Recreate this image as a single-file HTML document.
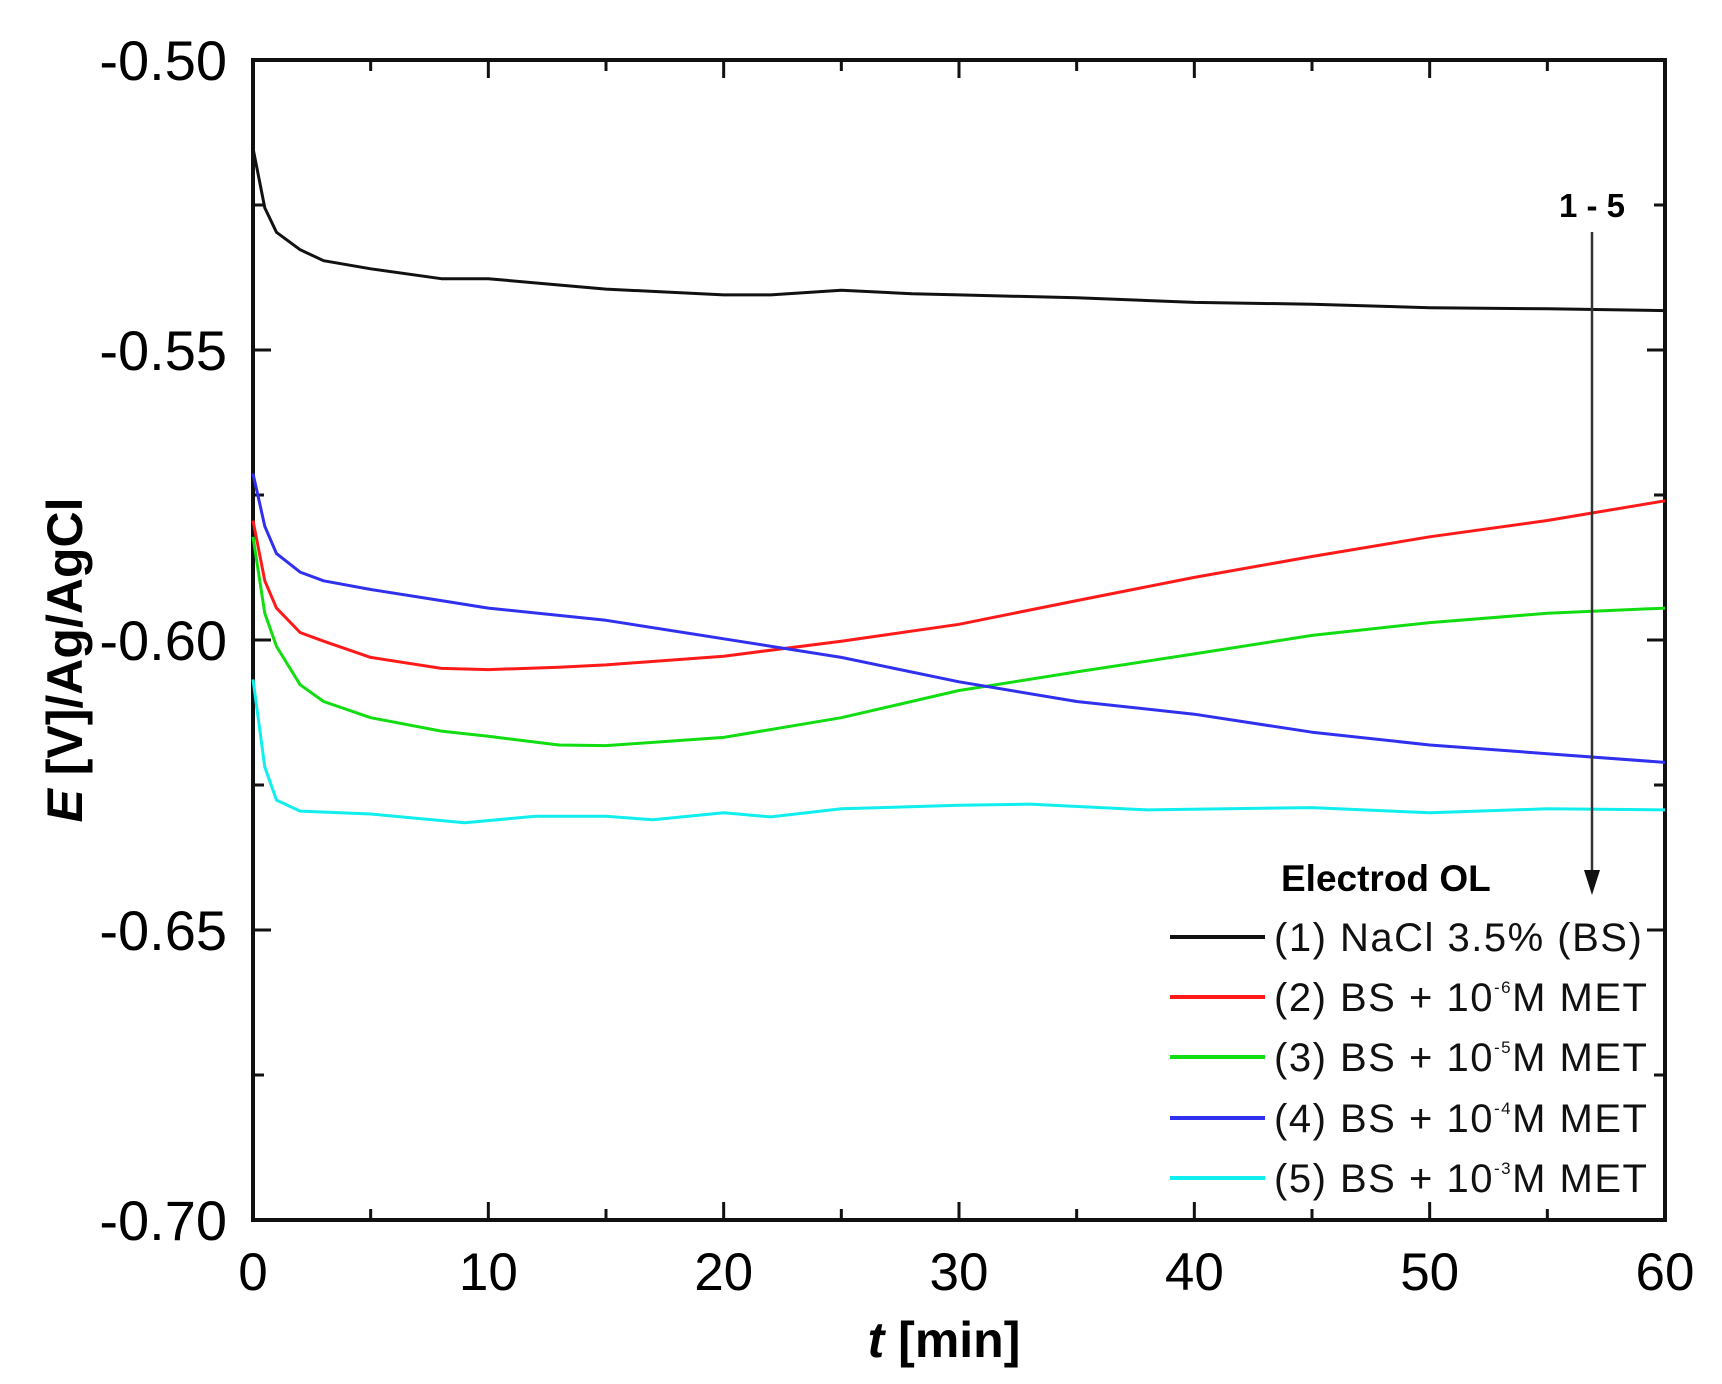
<!DOCTYPE html>
<html><head><meta charset="utf-8"><style>
html,body{margin:0;padding:0;background:#fff}
svg{display:block;font-family:"Liberation Sans",Arial,sans-serif}
</style></head><body>
<svg id="chart" width="1722" height="1384" viewBox="0 0 1722 1384" xmlns="http://www.w3.org/2000/svg"></svg>
<script>
const tBlack=[0,0.5,1,2,3,5,8,10,13,15,20,22,25,28,30,35,40,45,50,55,60];
const vBlack=[-0.5152,-0.5255,-0.5297,-0.5327,-0.5346,-0.5360,-0.5377,-0.5377,-0.5388,-0.5395,-0.5405,-0.5405,-0.5397,-0.5403,-0.5405,-0.5410,-0.5418,-0.5421,-0.5427,-0.5429,-0.5432];
const tRed=[0,0.5,1,2,3,5,8,10,13,15,20,25,30,35,40,45,50,55,60];
const vRed=[-0.5794,-0.5898,-0.5945,-0.5987,-0.6002,-0.6030,-0.6049,-0.6051,-0.6047,-0.6043,-0.6028,-0.6002,-0.5973,-0.5932,-0.5892,-0.5856,-0.5822,-0.5794,-0.5760];
const tGreen=[0,0.5,1,2,3,5,8,10,13,15,20,25,30,35,40,45,50,55,60];
const vGreen=[-0.5822,-0.5954,-0.6011,-0.6077,-0.6106,-0.6134,-0.6157,-0.6166,-0.6181,-0.6182,-0.6168,-0.6134,-0.6087,-0.6055,-0.6024,-0.5992,-0.5970,-0.5954,-0.5945];
const tBlue=[0,0.5,1,2,3,5,8,10,15,20,25,30,35,40,45,50,55,60];
const vBlue=[-0.5713,-0.5804,-0.5851,-0.5883,-0.5898,-0.5913,-0.5932,-0.5945,-0.5966,-0.5998,-0.6030,-0.6072,-0.6106,-0.6128,-0.6159,-0.6181,-0.6196,-0.6211];
const tCyan=[0,0.5,1,2,5,9,12,15,17,20,22,25,30,33,38,45,50,55,60];
const vCyan=[-0.6068,-0.6219,-0.6276,-0.6295,-0.6300,-0.6315,-0.6304,-0.6304,-0.6310,-0.6298,-0.6305,-0.6291,-0.6285,-0.6283,-0.6293,-0.6289,-0.6298,-0.6291,-0.6293];
const xTicks=[0,10,20,30,40,50,60];
const yTicks=[-0.50,-0.55,-0.60,-0.65,-0.70];
const yTickLabels=["-0.50","-0.55","-0.60","-0.65","-0.70"];
const legendLabels=["(1) NaCl 3.5% (BS)","(2) BS + 10","(3) BS + 10","(4) BS + 10","(5) BS + 10"];
const legendExp=["","-6","-5","-4","-3"];

const L=253,R=1665,T=60,B=1220;
const sx=t=>L+(t-0)/(60-0)*(R-L);
const sy=v=>T+(-0.50-v)/(0.20)*(B-T);
const svg=document.getElementById('chart');
const NS="http://www.w3.org/2000/svg";
function mk(tag,attrs,parent){const e=document.createElementNS(NS,tag);for(const k in attrs)e.setAttribute(k,attrs[k]);(parent||svg).appendChild(e);return e;}

const frame=mk('rect',{x:L,y:T,width:R-L,height:B-T,fill:'none',stroke:'#111','stroke-width':4});



for(let t=0;t<=60;t+=5){
  const len=(t%10===0)?18:11;
  const x=sx(t);
  const a=mk('line',{x1:x,y1:B,x2:x,y2:B-len,stroke:'#111','stroke-width':3});
  
  
  const b=mk('line',{x1:x,y1:T,x2:x,y2:T+len,stroke:'#111','stroke-width':3});
  
  
}
for(let i=0;i<=8;i++){
  const v=-0.50-i*0.025;
  const len=(i%2===0)?18:11;
  const y=sy(v);
  const a=mk('line',{x1:L,y1:y,x2:L+len,y2:y,stroke:'#111','stroke-width':3});
  
  
  const b=mk('line',{x1:R,y1:y,x2:R-len,y2:y,stroke:'#111','stroke-width':3});
  
  
}
xTicks.forEach(t=>{
  const e=mk('text',{x:sx(t),y:B+70,'font-size':53,'text-anchor':'middle',fill:'#000'});
  e.textContent=String(t);
  
  
});
yTicks.forEach((v,i)=>{
  const e=mk('text',{x:L-26,y:sy(v)+20,'font-size':56,'text-anchor':'end',fill:'#000'});
  e.textContent=yTickLabels[i];
  
  
});

const xt=mk('text',{x:944,y:1357,'font-size':50,'font-weight':'bold','text-anchor':'middle',fill:'#000'});
xt.innerHTML='<tspan font-style="italic">t</tspan> [min]';


const yt=mk('text',{x:0,y:0,'font-size':50,'font-weight':'bold','text-anchor':'middle',fill:'#000',transform:'translate(82,660) rotate(-90)'});
yt.innerHTML='<tspan font-style="italic">E</tspan> [V]/Ag/AgCl';



const series=[[tBlack,vBlack,'#111','series-nacl'],[tRed,vRed,'#ff1a1a','series-met-1e-6'],[tGreen,vGreen,'#11dd11','series-met-1e-5'],[tBlue,vBlue,'#3030ee','series-met-1e-4'],[tCyan,vCyan,'#11eeee','series-met-1e-3']];
series.forEach(s=>{
  const d=s[0].map((t,i)=>(i?'L':'M')+sx(t).toFixed(1)+','+sy(s[1][i]).toFixed(1)).join(' ');
  const p=mk('path',{d:d,fill:'none',stroke:s[2],'stroke-width':3,'stroke-linejoin':'round'});
  
  
});

const an=mk('text',{x:1592,y:217,'font-size':33,'font-weight':'bold','text-anchor':'middle',fill:'#000'});
an.textContent='1 - 5';


const ar=mk('line',{x1:1592,y1:232,x2:1592,y2:880,stroke:'#333','stroke-width':2.5});


const ah=mk('polygon',{points:'1584,870 1600,870 1592,895',fill:'#111'});



const lt=mk('text',{x:1281,y:891,'font-size':37,'font-weight':'bold',fill:'#000'});
lt.textContent='Electrod OL';


const legY=[937,997,1057,1118,1178];
series.forEach((s,i)=>{
  const g=mk('g',{});
  
  
  mk('line',{x1:1170,y1:legY[i],x2:1265,y2:legY[i],stroke:s[2],'stroke-width':4},g);
  const tx=mk('text',{x:1274,y:legY[i]+14,'font-size':40,fill:'#111','letter-spacing':1.5},g);
  if(legendExp[i]){tx.innerHTML=legendLabels[i]+'<tspan dy="-18" font-size="17">'+legendExp[i]+'</tspan><tspan dy="18">M MET</tspan>';}
  else tx.textContent=legendLabels[i];
});
</script>
</body></html>
